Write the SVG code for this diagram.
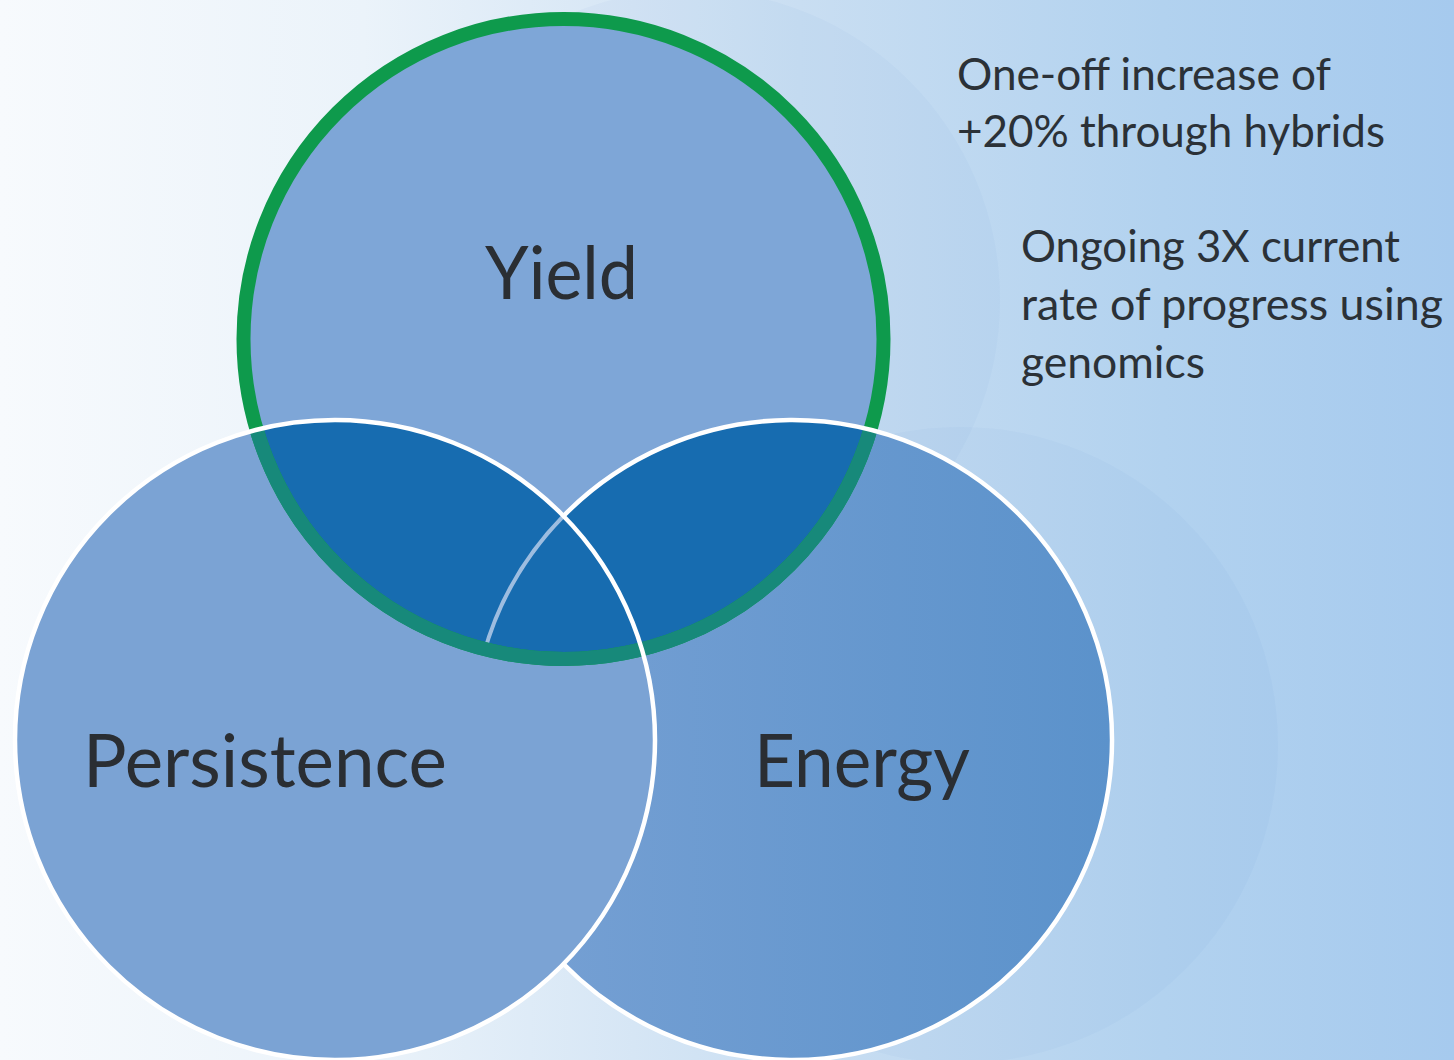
<svg xmlns="http://www.w3.org/2000/svg" width="1454" height="1060" viewBox="0 0 1454 1060">
  <defs>
    <linearGradient id="bg" x1="0" y1="0" x2="1" y2="0">
      <stop offset="0" stop-color="#f7fafd"/>
      <stop offset="0.25" stop-color="#ebf3fa"/>
      <stop offset="0.55" stop-color="#c9def2"/>
      <stop offset="0.8" stop-color="#b2d2ef"/>
      <stop offset="1" stop-color="#a6caee"/>
    </linearGradient>
    <linearGradient id="energyFill" x1="0" y1="0" x2="1" y2="0">
      <stop offset="0" stop-color="#78a1d4"/>
      <stop offset="1" stop-color="#5b92cb"/>
    </linearGradient>
    <clipPath id="clipYield">
      <circle cx="563.5" cy="339" r="320"/>
    </clipPath>
    <clipPath id="clipPE">
      <circle cx="335" cy="740" r="320"/>
      <circle cx="792" cy="740" r="320"/>
    </clipPath>
    <style>
      .label { font-family: Lato, "Open Sans", "Liberation Sans", sans-serif; fill: #2a2e33; }
      .big { font-size: 73px; }
      .note { font-size: 45px; fill: #2b3137; }
      .white { fill: none; stroke: #ffffff; stroke-width: 4.5; }
      .ghost { fill: #3f7fbf; opacity: 0.035; }
    </style>
  </defs>

  <rect x="0" y="0" width="1454" height="1060" fill="url(#bg)"/>

  <g id="ghosts">
    <circle class="ghost" cx="960" cy="745" r="318"/>
    <circle class="ghost" cx="690" cy="300" r="310"/>
  </g>

  <g id="node-yield-fill">
    <circle cx="563.5" cy="339" r="320" fill="#7ea6d7"/>
  </g>

  <g id="node-energy">
    <circle cx="792" cy="740" r="320" fill="url(#energyFill)"/>
  </g>

  <g id="node-persistence">
    <circle cx="335" cy="740" r="320" fill="#7ba3d4"/>
  </g>

  <g id="overlaps" clip-path="url(#clipYield)">
    <circle cx="335" cy="740" r="320" fill="#176cb0"/>
    <circle cx="792" cy="740" r="320" fill="#176cb0"/>
    <path d="M 563.5 516 A 320 320 0 0 0 481.6 662" fill="none" stroke="#9dbde0" stroke-width="4"/>
  </g>

  <g id="node-yield">
    <circle cx="563.5" cy="339" r="320" fill="none" stroke="#0e9a4c" stroke-width="14"/>
    <circle cx="563.5" cy="339" r="320" fill="none" stroke="#17897a" stroke-width="14" clip-path="url(#clipPE)"/>
  </g>

  <g id="outlines">
    <circle class="white" cx="335" cy="740" r="320"/>
    <path class="white" d="M 563.5 516 A 320 320 0 1 1 563.5 964"/>
  </g>

  <g id="labels">
    <text class="label big" x="485" y="299" textLength="153" lengthAdjust="spacingAndGlyphs">Yield</text>
    <text class="label big" x="83" y="787" textLength="364" lengthAdjust="spacingAndGlyphs">Persistence</text>
    <text class="label big" x="754" y="787" textLength="216" lengthAdjust="spacingAndGlyphs">Energy</text>
  </g>

  <g id="notes">
    <text class="label note" x="957" y="90" textLength="374" lengthAdjust="spacingAndGlyphs">One-off increase of</text>
    <text class="label note" x="957" y="147" textLength="428" lengthAdjust="spacingAndGlyphs">+20% through hybrids</text>
    <text class="label note" x="1021" y="262" textLength="379" lengthAdjust="spacingAndGlyphs">Ongoing 3X current</text>
    <text class="label note" x="1021" y="320" textLength="422" lengthAdjust="spacingAndGlyphs">rate of progress using</text>
    <text class="label note" x="1021" y="378" textLength="184" lengthAdjust="spacingAndGlyphs">genomics</text>
  </g>
</svg>
